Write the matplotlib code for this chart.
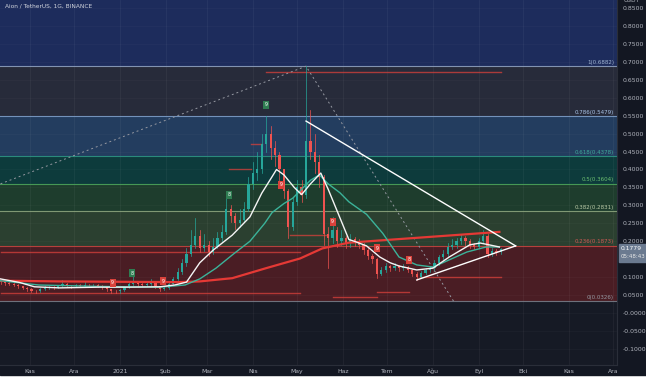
import matplotlib
matplotlib.use('Agg')
import matplotlib.pyplot as plt
import matplotlib.dates as mdates
import numpy as np
import pandas as pd
from matplotlib.patches import Rectangle

TITLE = "Aion / TetherUS, 1G, BINANCE"

# ---------------- data ----------------
candle_start = '2020-10-12'
first_open = 0.088
close = [0.085, 0.083, 0.080, 0.078, 0.074, 0.070, 0.066, 0.062, 0.060, 0.066,
         0.070, 0.072, 0.071, 0.074, 0.080, 0.076, 0.074, 0.077, 0.075, 0.079,
         0.077, 0.078, 0.076, 0.072, 0.066, 0.062, 0.060, 0.064, 0.072, 0.082,
         0.086, 0.080, 0.078, 0.080, 0.084, 0.074, 0.066, 0.070, 0.082, 0.095,
         0.115, 0.140, 0.165, 0.190, 0.215, 0.180, 0.190, 0.170, 0.185, 0.210,
         0.225, 0.290, 0.270, 0.250, 0.260, 0.290, 0.360, 0.390, 0.400, 0.470,
         0.500, 0.460, 0.440, 0.400, 0.340, 0.240, 0.310, 0.350, 0.330, 0.480,
         0.450, 0.420, 0.380, 0.220, 0.210, 0.230, 0.200, 0.210, 0.195, 0.205,
         0.200, 0.190, 0.175, 0.160, 0.150, 0.110, 0.120, 0.130, 0.125, 0.130,
         0.125, 0.128, 0.120, 0.110, 0.100, 0.112, 0.120, 0.125, 0.140, 0.155,
         0.165, 0.185, 0.190, 0.200, 0.210, 0.200, 0.190, 0.185, 0.200, 0.215,
         0.165, 0.172, 0.170, 0.1779]
high = [0.092, 0.088, 0.086, 0.083, 0.080, 0.076, 0.072, 0.069, 0.065, 0.069,
        0.074, 0.076, 0.075, 0.078, 0.092, 0.083, 0.079, 0.081, 0.080, 0.089,
        0.082, 0.082, 0.080, 0.078, 0.074, 0.068, 0.065, 0.068, 0.076, 0.088,
        0.103, 0.090, 0.083, 0.085, 0.095, 0.086, 0.076, 0.074, 0.086, 0.100,
        0.125, 0.150, 0.180, 0.230, 0.265, 0.230, 0.220, 0.200, 0.210, 0.225,
        0.245, 0.320, 0.300, 0.280, 0.290, 0.310, 0.380, 0.420, 0.450, 0.500,
        0.550, 0.520, 0.480, 0.450, 0.400, 0.345, 0.320, 0.370, 0.370, 0.688,
        0.565, 0.500, 0.440, 0.385, 0.240, 0.267, 0.240, 0.230, 0.215, 0.220,
        0.212, 0.205, 0.195, 0.180, 0.165, 0.152, 0.128, 0.140, 0.135, 0.138,
        0.134, 0.136, 0.132, 0.124, 0.113, 0.118, 0.126, 0.132, 0.148, 0.162,
        0.175, 0.195, 0.205, 0.210, 0.220, 0.215, 0.205, 0.195, 0.210, 0.230,
        0.220, 0.180, 0.178, 0.182]
low = [0.080, 0.079, 0.077, 0.074, 0.070, 0.066, 0.062, 0.058, 0.056, 0.058,
       0.064, 0.068, 0.067, 0.069, 0.072, 0.073, 0.071, 0.072, 0.072, 0.073,
       0.074, 0.074, 0.072, 0.068, 0.062, 0.057, 0.055, 0.057, 0.062, 0.070,
       0.078, 0.076, 0.074, 0.075, 0.077, 0.070, 0.060, 0.063, 0.068, 0.080,
       0.092, 0.110, 0.132, 0.158, 0.180, 0.170, 0.172, 0.160, 0.165, 0.180,
       0.200, 0.220, 0.255, 0.235, 0.240, 0.255, 0.285, 0.345, 0.370, 0.390,
       0.450, 0.430, 0.410, 0.370, 0.320, 0.210, 0.230, 0.300, 0.310, 0.320,
       0.430, 0.390, 0.350, 0.190, 0.125, 0.195, 0.185, 0.190, 0.180, 0.185,
       0.188, 0.180, 0.165, 0.150, 0.140, 0.098, 0.105, 0.115, 0.118, 0.120,
       0.118, 0.120, 0.114, 0.104, 0.092, 0.097, 0.108, 0.115, 0.120, 0.135,
       0.150, 0.160, 0.178, 0.182, 0.192, 0.190, 0.182, 0.178, 0.180, 0.195,
       0.156, 0.160, 0.162, 0.165]

white_dates = ['2020-10-12', '2020-10-25', '2020-11-04', '2020-11-21', '2020-12-18',
               '2021-01-07', '2021-01-28', '2021-02-07', '2021-02-15', '2021-02-24',
               '2021-03-05', '2021-03-18', '2021-03-30', '2021-04-07', '2021-04-14',
               '2021-04-17', '2021-04-22', '2021-04-29', '2021-05-04', '2021-05-10',
               '2021-05-17', '2021-05-22', '2021-05-27', '2021-06-02', '2021-06-05',
               '2021-06-10', '2021-06-17', '2021-06-26', '2021-07-03', '2021-07-09',
               '2021-07-21', '2021-08-01', '2021-08-12', '2021-08-26', '2021-09-02',
               '2021-09-08', '2021-09-15']
white_vals = [0.095, 0.085, 0.073, 0.070, 0.072, 0.072, 0.073, 0.078, 0.086, 0.14,
              0.175, 0.217, 0.268, 0.334, 0.38, 0.40, 0.385, 0.35, 0.33, 0.36,
              0.39, 0.345, 0.295, 0.235, 0.205, 0.198, 0.187, 0.156, 0.14, 0.131,
              0.12, 0.125, 0.156, 0.19, 0.195, 0.19, 0.184]

teal_dates = ['2020-10-12', '2020-11-07', '2020-12-18', '2021-01-28', '2021-02-14',
              '2021-02-24', '2021-03-07', '2021-03-19', '2021-03-30', '2021-04-09',
              '2021-04-14', '2021-04-22', '2021-04-28', '2021-05-04', '2021-05-10',
              '2021-05-16', '2021-05-22', '2021-05-30', '2021-06-05', '2021-06-17',
              '2021-06-28', '2021-07-09', '2021-07-21', '2021-08-01', '2021-08-12',
              '2021-08-24', '2021-09-06', '2021-09-15']
teal_vals = [0.090, 0.078, 0.074, 0.072, 0.078, 0.095, 0.125, 0.165, 0.20, 0.25,
             0.28, 0.305, 0.32, 0.345, 0.37, 0.385, 0.36, 0.335, 0.31, 0.275,
             0.222, 0.156, 0.134, 0.128, 0.148, 0.17, 0.184, 0.184]

red_dates = ['2020-10-12', '2020-11-21', '2021-01-01', '2021-02-10', '2021-02-24',
             '2021-03-18', '2021-04-10', '2021-05-03', '2021-05-18', '2021-06-05',
             '2021-07-09', '2021-08-12', '2021-09-15']
red_vals = [0.090, 0.088, 0.087, 0.086, 0.088, 0.097, 0.125, 0.152, 0.18, 0.196,
            0.206, 0.216, 0.226]

fib_ratios = ['1', '0.786', '0.618', '0.5', '0.382', '0.236', '0']
fib_prices = [0.6882, 0.5479, 0.4378, 0.3604, 0.2831, 0.1873, 0.0326]

month_dates = ['2020-11-01', '2020-12-01', '2021-01-01', '2021-02-01', '2021-03-01',
               '2021-04-01', '2021-05-01', '2021-06-01', '2021-07-01', '2021-08-01',
               '2021-09-01', '2021-10-01', '2021-11-01', '2021-12-01']
month_labels = ['Kas', 'Ara', '2021', 'Şub', 'Mar', 'Nis', 'May', 'Haz', 'Tem',
                'Ağu', 'Eyl', 'Eki', 'Kas', 'Ara']

ytick_vals = [0.85, 0.80, 0.75, 0.70, 0.65, 0.60, 0.55, 0.50, 0.45, 0.40, 0.35,
              0.30, 0.25, 0.20, 0.10, 0.05, 0.0, -0.05, -0.10]
ytick_labels = ['0.8500', '0.8000', '0.7500', '0.7000', '0.6500', '0.6000', '0.5500',
                '0.5000', '0.4500', '0.4000', '0.3500', '0.3000', '0.2500', '0.2000',
                '0.1000', '0.0500', '-0.0000', '-0.0500', '-0.1000']

last_price_label = '0.1779'
countdown_label = '05:48:43'

# trend lines (date, value)
desc_line = [('2021-05-07', 0.535), ('2021-09-26', 0.187)]
asc_line = [('2021-07-21', 0.092), ('2021-09-26', 0.187)]
fib_path = [('2020-10-12', 0.36), ('2021-05-07', 0.688), ('2021-08-15', 0.0326)]

# horizontal red level drawings (start, end, value)
red_levels = [('2020-10-12', '2021-05-03', 0.170),
              ('2020-10-12', '2021-05-03', 0.056),
              ('2021-04-10', '2021-09-16', 0.672),
              ('2021-03-16', '2021-03-31', 0.40),
              ('2021-03-31', '2021-04-07', 0.47),
              ('2021-04-26', '2021-05-22', 0.217),
              ('2021-05-25', '2021-06-24', 0.045),
              ('2021-06-24', '2021-07-16', 0.058),
              ('2021-07-23', '2021-09-16', 0.10)]

# TD sequential style markers (date, value, text, kind)
markers = [('2021-01-09', 0.111, '8', 'g'),
           ('2021-03-16', 0.33, '8', 'g'),
           ('2021-04-10', 0.58, '9', 'g'),
           ('2021-04-20', 0.357, '9', 'r'),
           ('2021-05-25', 0.254, '9', 'r'),
           ('2021-06-24', 0.18, '9', 'r'),
           ('2021-07-16', 0.148, '8', 'r'),
           ('2020-12-27', 0.084, '9', 'r'),
           ('2021-01-30', 0.089, '9', 'r')]

# ---------------- styles ----------------
BG = '#131722'
band_colors = ['#1d2c5c', '#272b3a', '#233d5f', '#0d3b3c', '#1e3d2d', '#2b4030',
               '#4a1d24', '#161a25']
line_colors = ['#8d9fbf', '#7c9cc4', '#2e9384', '#4ba35a', '#8aa37c', '#c2453f', '#787b86']
label_colors = ['#9fb3d1', '#a9c4e8', '#3fa99a', '#6cc070', '#b9c9a6', '#d05a55', '#9598a1']
UP = '#26a69a'
DOWN = '#ef5350'

W, H = 646, 379
fig = plt.figure(figsize=(W / 100, H / 100), dpi=100)
fig.patch.set_facecolor('white')
fig.add_artist(Rectangle((0, 4 / H), 1, 375 / H, transform=fig.transFigure,
                         color=BG, zorder=-10))
ax = fig.add_axes([0, 14 / H, 617 / W, 365 / H])
ax.set_facecolor(BG)

d = lambda s: mdates.date2num(pd.Timestamp(s))
x0 = d(candle_start) - 0.34
x1 = x0 + 617 / 1.476
ax.set_xlim(x0, x1)
ax.set_ylim(-0.145, 0.8725)

# fib bands
edges = [0.8725] + fib_prices + [-0.145]
for i in range(len(edges) - 1):
    ax.axhspan(edges[i + 1], edges[i], color=band_colors[i], zorder=0, lw=0)
for p, c in zip(fib_prices, line_colors):
    ax.axhline(p, color=c, lw=0.8, zorder=1, alpha=0.9)
xlab = x0 + 614 / 1.476
for r, p, c in zip(fib_ratios, fib_prices, label_colors):
    ax.text(xlab, p + 0.004, f'{r}({p:.4f})', ha='right', va='bottom',
            fontsize=4.0, color=c, zorder=5)

# grid
for m in month_dates:
    ax.axvline(d(m), color='#ffffff', alpha=0.05, lw=0.6, zorder=0.5)
for v in ytick_vals:
    ax.axhline(v, color='#ffffff', alpha=0.035, lw=0.5, zorder=0.5)

# red level drawings
for s, e, v in red_levels:
    ax.plot([d(s), d(e)], [v, v], color='#d8413b', lw=1.0, alpha=0.75, zorder=2)

# candles
dates = pd.date_range(candle_start, periods=len(close), freq='3D')
xs = mdates.date2num(dates)
opens = [first_open] + close[:-1]
for x, o, h, l, c in zip(xs, opens, high, low, close):
    col = UP if c >= o else DOWN
    ax.plot([x, x], [l, h], color=col, lw=0.5, zorder=3)
    bot = min(o, c)
    ht = max(abs(c - o), 0.002)
    ax.add_patch(Rectangle((x - 0.75, bot), 1.5, ht, color=col, lw=0, zorder=3))

# moving averages
ax.plot(mdates.date2num(pd.to_datetime(red_dates)), red_vals, color='#e53935', lw=1.6, zorder=4)
ax.plot(mdates.date2num(pd.to_datetime(teal_dates)), teal_vals, color='#3bb39a', lw=1.0, zorder=4)
ax.plot(mdates.date2num(pd.to_datetime(white_dates)), white_vals, color='#f5f5f5', lw=1.0, zorder=4)

# trend lines
for line in (desc_line, asc_line):
    ax.plot([d(a) for a, _ in line], [b for _, b in line], color='white', lw=1.0, zorder=5)
ax.plot([d(a) for a, _ in fib_path], [b for _, b in fib_path], color='#9598a1',
        lw=0.7, ls=(0, (2, 3)), zorder=2)

# markers
for dt, v, t, k in markers:
    fc = '#2f7d52' if k == 'g' else '#d9423b'
    ax.text(d(dt), v, t, fontsize=3.4, color='white', ha='center', va='center', zorder=6,
            bbox=dict(boxstyle='square,pad=0.3', fc=fc, ec='none'))

# axes
ax.yaxis.tick_right()
ax.set_yticks(ytick_vals)
ax.set_yticklabels(ytick_labels)
ax.set_xticks([d(m) for m in month_dates])
ax.set_xticklabels(month_labels)
ax.tick_params(axis='y', colors='#b2b5be', labelsize=4.4, length=0, pad=4)
ax.tick_params(axis='x', colors='#b2b5be', labelsize=4.4, length=0, pad=5.8)
for lab in ax.get_xticklabels():
    lab.set_verticalalignment('baseline')
for sp in ['top', 'left']:
    ax.spines[sp].set_visible(False)
for sp in ['right', 'bottom']:
    ax.spines[sp].set_color('#2a2e39')
    ax.spines[sp].set_linewidth(0.8)

# texts
fig.text(5 / W, 1 - 6 / H, TITLE, fontsize=4.2, color='#d1d4dc', va='center', ha='left')
fig.text(632 / W, 1 - 1 / H, 'USDT', fontsize=4.2, color='#b2b5be', va='center', ha='center')

# last price box
fig.add_artist(Rectangle((619 / W, 1 - 262 / H), 27 / W, 18 / H, transform=fig.transFigure,
                         color='#6b7a90', zorder=10))
fig.text(621 / W, 1 - 248.5 / H, last_price_label, fontsize=4.3, color='white',
         va='center', ha='left', zorder=11)
fig.text(621 / W, 1 - 256.5 / H, countdown_label, fontsize=4.0, color='#e8e8e8',
         va='center', ha='left', zorder=11)

fig.savefig('out.png', dpi=100, facecolor=fig.get_facecolor())
